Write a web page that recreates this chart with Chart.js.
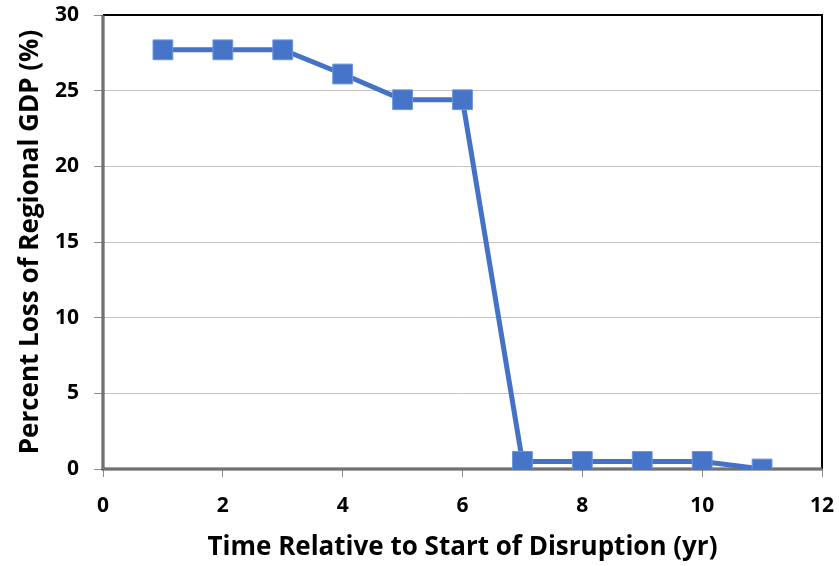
<!DOCTYPE html>
<html>
<head>
<meta charset="utf-8">
<script src="https://cdn.jsdelivr.net/npm/chart.js@4/dist/chart.umd.min.js"></script>
<style>
  html, body { margin: 0; padding: 0; background: #fff; }
  #wrap { width: 839px; height: 566px; position: relative; }
</style>
</head>
<body>
<div id="wrap"><canvas id="c" width="839" height="566"></canvas></div>
<script>
// Years since the disruption began and the regional GDP loss at each year
const years = [1, 2, 3, 4, 5, 6, 7, 8, 9, 10, 11];
const gdpLoss = [27.7, 27.7, 27.7, 26.1, 24.4, 24.4, 0.5, 0.5, 0.5, 0.5, 0.0];
const xTicks = [0, 2, 4, 6, 8, 10, 12];
const yTicks = [0, 5, 10, 15, 20, 25, 30];

const xTitle = 'Time Relative to Start of Disruption (yr)';
const yTitle = 'Percent Loss of Regional GDP (%)';

const FONT = '"Open Sans", Lato, sans-serif';
const BLUE = '#4472C4';

// Frame around the plotting area, drawn under the series
const frame = {
  id: 'frame',
  beforeDatasetsDraw(chart) {
    const { ctx, chartArea: a } = chart;
    ctx.save();
    ctx.lineWidth = 2;
    ctx.strokeStyle = '#000';
    ctx.beginPath();
    ctx.moveTo(a.left, a.top);
    ctx.lineTo(a.right, a.top);
    ctx.lineTo(a.right, a.bottom);
    ctx.stroke();
    ctx.strokeStyle = '#4a4a4a';
    ctx.lineWidth = 3;
    ctx.beginPath();
    ctx.moveTo(a.left, a.top);
    ctx.lineTo(a.left, a.bottom);
    ctx.lineTo(a.right, a.bottom);
    ctx.stroke();
    ctx.strokeStyle = '#9a9a9a';
    ctx.lineWidth = 1;
    ctx.beginPath();
    ctx.moveTo(a.left, a.top + 1);
    ctx.lineTo(a.left, a.bottom);
    ctx.lineTo(a.right, a.bottom);
    ctx.stroke();
    ctx.restore();
  }
};

new Chart(document.getElementById('c'), {
  type: 'line',
  data: {
    datasets: [{
      data: years.map((x, i) => ({ x, y: gdpLoss[i] })),
      borderColor: BLUE,
      borderWidth: 5,
      backgroundColor: BLUE,
      pointStyle: 'rect',
      pointRadius: 14,
      pointHoverRadius: 14,
      pointBackgroundColor: '#4574c8',
      pointBorderColor: '#6d95dc',
      pointBorderWidth: 1,
      tension: 0
    }]
  },
  options: {
    responsive: false,
    animation: false,
    layout: { padding: { top: 15, right: 17, left: 0, bottom: 0 } },
    plugins: { legend: { display: false }, tooltip: { enabled: false } },
    scales: {
      x: {
        type: 'linear',
        min: 0, max: 12,
        afterBuildTicks(s) { s.ticks = xTicks.map(v => ({ value: v })); },
        afterFit(s) { s.height = 97; s.paddingLeft = 0; s.paddingRight = 0; },
        grid: { color: 'rgba(0,0,0,0)', tickColor: '#8c8c8c', tickLength: 8, drawOnChartArea: false },
        border: { display: false },
        ticks: { color: '#000', padding: 16, font: { family: FONT, size: 21, weight: 'bold' } },
        title: {
          display: true, text: xTitle, color: '#000',
          font: { family: FONT, size: 26, weight: 'bold' },
          padding: { top: 0, bottom: 3 }
        }
      },
      y: {
        type: 'linear',
        min: 0, max: 30,
        afterBuildTicks(s) { s.ticks = yTicks.map(v => ({ value: v })); },
        afterFit(s) { s.width = 103; s.paddingTop = 0; s.paddingBottom = 0; },
        grid: { color: '#c4c4c4', lineWidth: 1, tickColor: '#8c8c8c', tickLength: 9 },
        border: { display: false },
        ticks: { color: '#000', padding: 15, font: { family: FONT, size: 21, weight: 'bold' } },
        title: {
          display: true, text: yTitle, color: '#000',
          font: { family: FONT, size: 26, weight: 'bold' },
          padding: { top: 15, bottom: 0 }
        }
      }
    }
  },
  plugins: [frame]
});
</script>
</body>
</html>
